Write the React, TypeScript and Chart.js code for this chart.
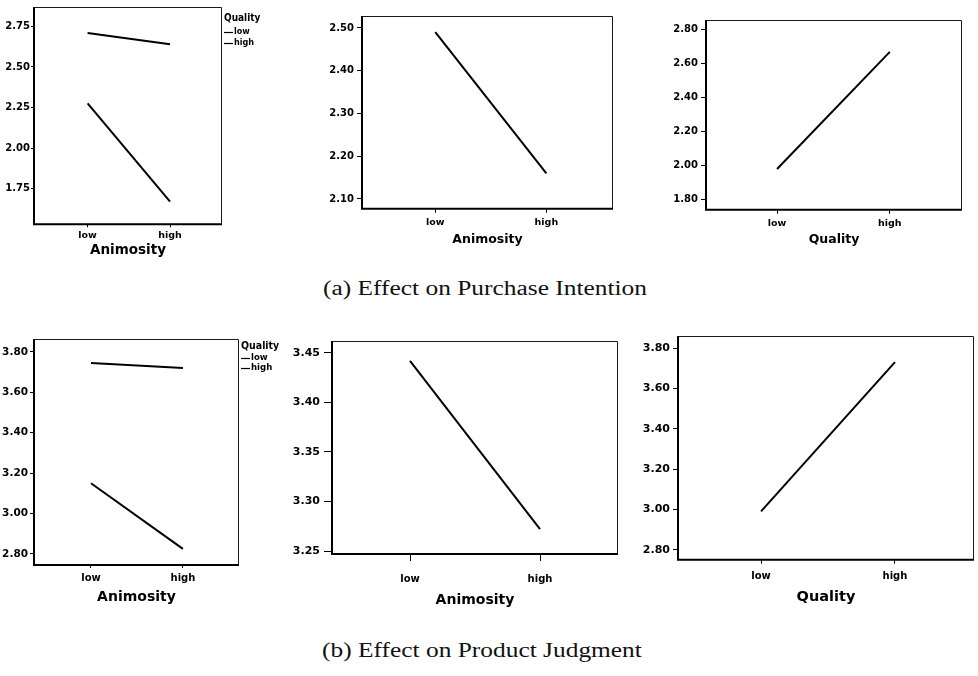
import React, { useEffect, useRef } from "react";
import { Chart, registerables } from "chart.js";

Chart.register(...registerables);

// ---------- data ----------
const levels = ["low", "high"];

// (a) Purchase Intention
const piLowQuality = [2.275, 1.67];
const piHighQuality = [2.71, 2.64];
const piAnimosity = [2.49, 2.16];
const piQuality = [1.98, 2.67];

// (b) Product Judgment
const pjLowQuality = [3.15, 2.825];
const pjHighQuality = [3.745, 3.72];
const pjAnimosity = [3.442, 3.272];
const pjQuality = [2.99, 3.73];

// tick labels
const piTicksInteraction = [1.75, 2.0, 2.25, 2.5, 2.75];
const piTicksAnimosity = [2.1, 2.2, 2.3, 2.4, 2.5];
const piTicksQuality = [1.8, 2.0, 2.2, 2.4, 2.6, 2.8];
const pjTicksInteraction = [2.8, 3.0, 3.2, 3.4, 3.6, 3.8];
const pjTicksAnimosity = [3.25, 3.3, 3.35, 3.4, 3.45];
const pjTicksQuality = [2.8, 3.0, 3.2, 3.4, 3.6, 3.8];

const captionA = "(a) Effect on Purchase Intention";
const captionB = "(b) Effect on Product Judgment";

// ---------- layout ----------
const FONT = "'DejaVu Sans', sans-serif";
const LEGEND_FONT = "'DejaVu Sans Condensed', 'DejaVu Sans', sans-serif";

type Series = { label: string; values: number[] };
type Panel = {
  key: string;
  box: [number, number, number, number];
  yRange: [number, number];
  xRange: [number, number];
  yTicks: number[];
  series: Series[];
  xTitle: string;
  legendTitle?: string;
  legendRows?: number[];
  legendFontSize?: number;
  tickFontSize: number;
  xLabelFontSize: number;
  titleFontSize: number;
  yTick: [number, number];
  xTick: [number, number];
  titleCenter: number;
};

const panels: Panel[] = [
  {
    key: "p1",
    box: [34, 6, 222, 224],
    yRange: [1.53, 2.87],
    xRange: [-0.65, 1.63],
    yTicks: piTicksInteraction,
    series: [
      { label: "low", values: piLowQuality },
      { label: "high", values: piHighQuality },
    ],
    xTitle: "Animosity",
    legendTitle: "Quality",
    legendRows: [11, 25, 36],
    legendFontSize: 10,
    tickFontSize: 10,
    xLabelFontSize: 9.5,
    titleFontSize: 13.5,
    yTick: [3, 1],
    xTick: [3, 3],
    titleCenter: 26,
  },
  {
    key: "p2",
    box: [362, 16, 613, 209],
    yRange: [2.077, 2.528],
    xRange: [-0.66, 1.6],
    yTicks: piTicksAnimosity,
    series: [{ label: "Purchase Intention", values: piAnimosity }],
    xTitle: "Animosity",
    tickFontSize: 10,
    xLabelFontSize: 9.5,
    titleFontSize: 12.5,
    yTick: [5, 3],
    xTick: [4, 4],
    titleCenter: 31,
  },
  {
    key: "p3",
    box: [706, 20, 962, 210],
    yRange: [1.74, 2.858],
    xRange: [-0.63, 1.64],
    yTicks: piTicksQuality,
    series: [{ label: "Purchase Intention", values: piQuality }],
    xTitle: "Quality",
    tickFontSize: 10,
    xLabelFontSize: 9.5,
    titleFontSize: 12.5,
    yTick: [5, 3],
    xTick: [4, 4],
    titleCenter: 30,
  },
  {
    key: "p4",
    box: [34, 339, 239, 565],
    yRange: [2.745, 3.864],
    xRange: [-0.62, 1.61],
    yTicks: pjTicksInteraction,
    series: [
      { label: "low", values: pjLowQuality },
      { label: "high", values: pjHighQuality },
    ],
    xTitle: "Animosity",
    legendTitle: "Quality",
    legendRows: [7, 19, 29],
    legendFontSize: 10.5,
    tickFontSize: 10.5,
    xLabelFontSize: 10,
    titleFontSize: 14,
    yTick: [4, 2],
    xTick: [3, 4],
    titleCenter: 32,
  },
  {
    key: "p5",
    box: [332, 341, 618, 554],
    yRange: [3.247, 3.462],
    xRange: [-0.6, 1.6],
    yTicks: pjTicksAnimosity,
    series: [{ label: "Product Judgment", values: pjAnimosity }],
    xTitle: "Animosity",
    tickFontSize: 11,
    xLabelFontSize: 10,
    titleFontSize: 14,
    yTick: [8, 4],
    xTick: [7, 12],
    titleCenter: 46,
  },
  {
    key: "p6",
    box: [678, 336, 974, 560],
    yRange: [2.75, 3.86],
    xRange: [-0.62, 1.59],
    yTicks: pjTicksQuality,
    series: [{ label: "Product Judgment", values: pjQuality }],
    xTitle: "Quality",
    tickFontSize: 11,
    xLabelFontSize: 10,
    titleFontSize: 14.5,
    yTick: [5, 3],
    xTick: [4, 7],
    titleCenter: 37,
  },
];

function geometry(p: Panel) {
  const [l, t, r, b] = p.box;
  const W = l < 40 ? l : 40;
  const padTop = Math.min(12, t);
  const padRight = p.legendTitle ? 60 : Math.min(8, 978 - r);
  const H = p.titleCenter + p.titleFontSize / 2;
  const left = l - W;
  const top = t - padTop;
  const width = W + (r - l) + padRight;
  const height = Math.round(padTop + (b - t) + H);
  return { W, padTop, padRight, H, left, top, width, height };
}

const framePlugin = {
  id: "frame",
  afterDatasetsDraw(chart: any) {
    const { ctx, chartArea } = chart;
    const { left, top, right, bottom } = chartArea;
    ctx.save();
    ctx.strokeStyle = "#1a1a1a";
    ctx.lineWidth = 1;
    ctx.beginPath();
    ctx.moveTo(left, top + 0.5);
    ctx.lineTo(right - 0.5, top + 0.5);
    ctx.lineTo(right - 0.5, bottom);
    ctx.stroke();
    ctx.strokeStyle = "#000";
    ctx.lineWidth = 2;
    ctx.beginPath();
    ctx.moveTo(left, top);
    ctx.lineTo(left, bottom);
    ctx.lineTo(right, bottom);
    ctx.stroke();
    ctx.restore();
  },
};

function PanelChart({ p }: { p: Panel }) {
  const ref = useRef<HTMLCanvasElement | null>(null);
  const g = geometry(p);

  useEffect(() => {
    if (!ref.current) return;
    const legendPlugin = {
      id: "qualityLegend",
      afterDraw(chart: any) {
        if (!p.legendTitle || !p.legendRows) return;
        const { ctx, chartArea } = chart;
        const x0 = chartArea.right + 2;
        const fs = p.legendFontSize || 9;
        ctx.save();
        ctx.fillStyle = "#000";
        ctx.strokeStyle = "#000";
        ctx.textBaseline = "middle";
        ctx.textAlign = "left";
        ctx.font = `bold ${fs}px ${LEGEND_FONT}`;
        ctx.fillText(p.legendTitle, x0, chartArea.top + p.legendRows[0]);
        chart.data.datasets.forEach((ds: any, i: number) => {
          const y = chartArea.top + p.legendRows![i + 1];
          ctx.lineWidth = 1.2;
          ctx.beginPath();
          ctx.moveTo(x0, y + 0.5);
          ctx.lineTo(x0 + 9, y + 0.5);
          ctx.stroke();
          ctx.font = `bold ${fs - 1}px ${LEGEND_FONT}`;
          ctx.fillText(ds.label, x0 + 10, y);
        });
        ctx.restore();
      },
    };

    const chart = new Chart(ref.current, {
      type: "line",
      data: {
        datasets: p.series.map((s) => ({
          label: s.label,
          data: s.values.map((v, i) => ({ x: i, y: v })),
          borderColor: "#000",
          backgroundColor: "#000",
          borderWidth: 2,
          pointRadius: 0,
          tension: 0,
          fill: false,
        })),
      },
      options: {
        animation: false,
        responsive: false,
        maintainAspectRatio: false,
        events: [],
        layout: {
          padding: { top: g.padTop, right: g.padRight, left: 0, bottom: 0 },
        },
        plugins: {
          legend: { display: false },
          tooltip: { enabled: false },
          title: { display: false },
        },
        scales: {
          x: {
            type: "linear",
            min: p.xRange[0],
            max: p.xRange[1],
            border: { display: false },
            grid: {
              drawOnChartArea: false,
              drawTicks: true,
              tickLength: p.xTick[0],
              color: "#000",
              lineWidth: 1,
            },
            ticks: {
              autoSkip: false,
              maxRotation: 0,
              minRotation: 0,
              padding: p.xTick[1],
              color: "#000",
              font: { family: FONT, size: p.xLabelFontSize, weight: "bold" },
              callback: (v: any) => levels[v as number] ?? "",
            },
            afterBuildTicks: (scale: any) => {
              scale.ticks = levels.map((_, i) => ({ value: i }));
            },
            afterFit: (scale: any) => {
              scale.height = g.H;
            },
            title: {
              display: true,
              text: p.xTitle,
              color: "#000",
              padding: { top: 0, bottom: 0 },
              font: { family: FONT, size: p.titleFontSize, weight: "bold", lineHeight: 1 },
            },
          },
          y: {
            type: "linear",
            min: p.yRange[0],
            max: p.yRange[1],
            border: { display: false },
            grid: {
              drawOnChartArea: false,
              drawTicks: true,
              tickLength: p.yTick[0],
              color: "#000",
              lineWidth: 1,
            },
            ticks: {
              autoSkip: false,
              padding: p.yTick[1],
              color: "#000",
              font: { family: FONT, size: p.tickFontSize, weight: "bold" },
              callback: (v: any) => Number(v).toFixed(2),
            },
            afterBuildTicks: (scale: any) => {
              scale.ticks = p.yTicks.map((v) => ({ value: v }));
            },
            afterFit: (scale: any) => {
              scale.width = g.W;
            },
          },
        },
      } as any,
      plugins: [framePlugin, legendPlugin],
    });
    return () => chart.destroy();
  }, []);

  return (
    <canvas
      ref={ref}
      width={g.width}
      height={g.height}
      style={{
        position: "absolute",
        left: g.left,
        top: g.top,
        width: g.width,
        height: g.height,
      }}
    />
  );
}

function Caption({ text, center, cx, sx }: { text: string; center: number; cx: number; sx: number }) {
  return (
    <div
      style={{
        position: "absolute",
        left: cx - 300,
        width: 600,
        top: center - 12,
        height: 24,
        lineHeight: "24px",
        textAlign: "center",
        fontFamily: "'Liberation Serif', 'Times New Roman', serif",
        fontSize: 20,
        color: "#111",
        transform: `scaleX(${sx})`,
        transformOrigin: "center",
        whiteSpace: "nowrap",
      }}
    >
      {text}
    </div>
  );
}

export default function App() {
  return (
    <div
      style={{
        position: "absolute",
        left: 0,
        top: 0,
        width: 978,
        height: 676,
        background: "#fff",
        overflow: "hidden",
      }}
    >
      {panels.map((p) => (
        <PanelChart key={p.key} p={p} />
      ))}
      <Caption text={captionA} center={288} cx={485} sx={1.27} />
      <Caption text={captionB} center={650} cx={482} sx={1.27} />
    </div>
  );
}
